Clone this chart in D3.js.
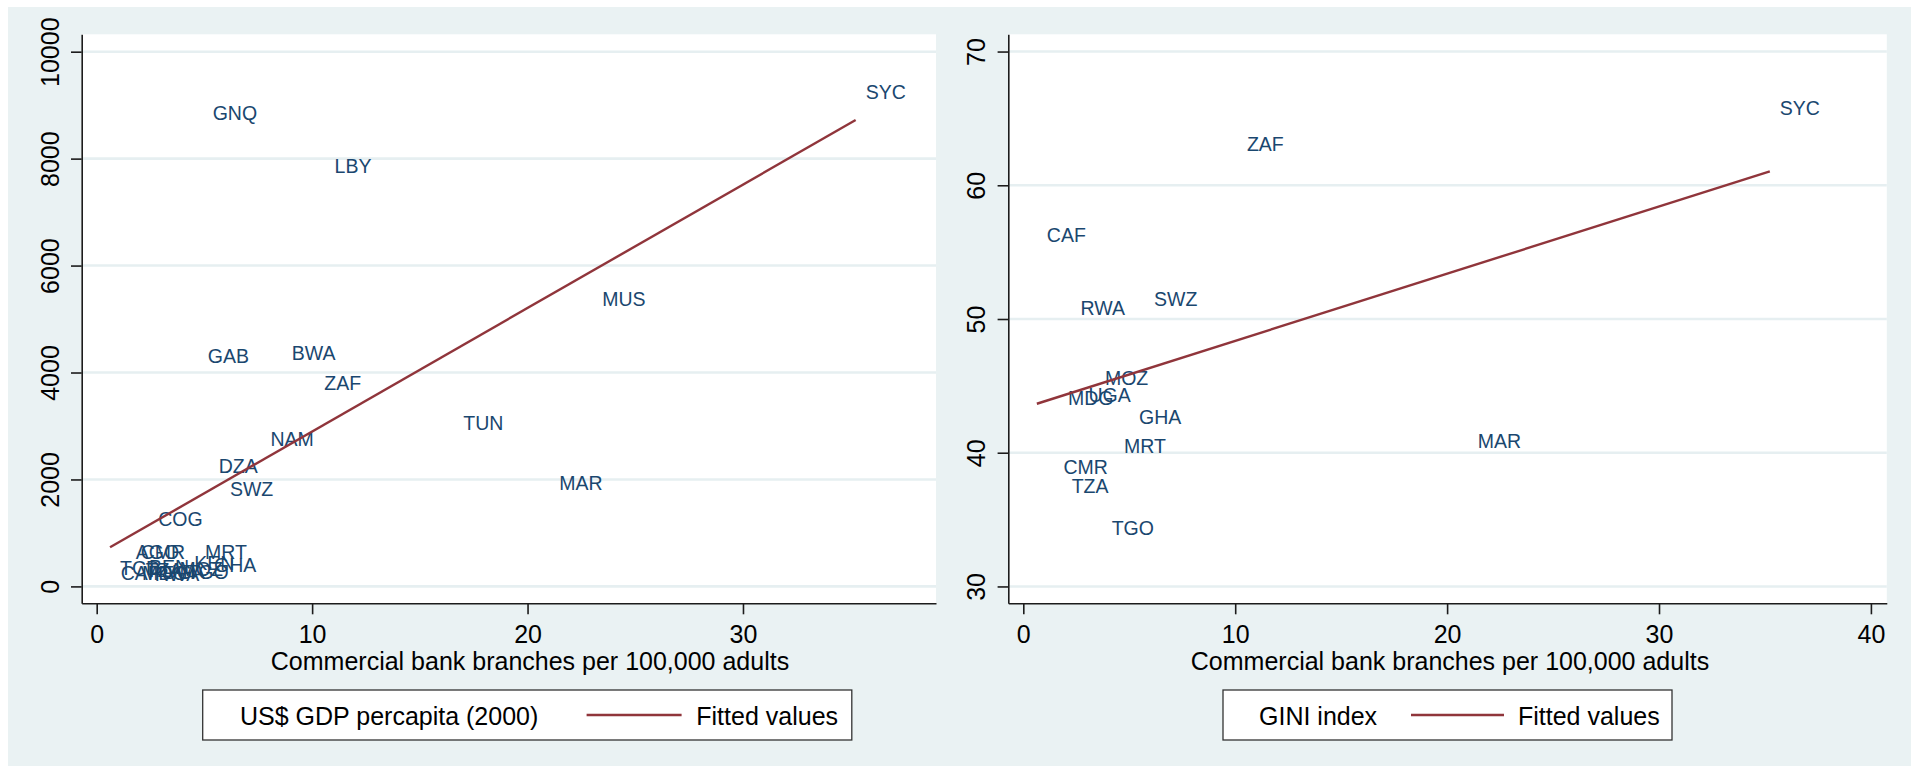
<!DOCTYPE html>
<html>
<head>
<meta charset="utf-8">
<script src="https://cdn.jsdelivr.net/npm/d3@7"></script>
<style>
  html, body { margin: 0; padding: 0; background: #ffffff; }
  svg { display: block; }
  text { font-family: "Liberation Sans", Arial, Helvetica, sans-serif; }
</style>
</head>
<body>
<svg id="chart" width="1919" height="772"></svg>
<script>
// ---------- DATA ----------
// Left panel: US$ GDP per capita (2000) vs commercial bank branches per 100,000 adults
const gdpCountries = ["SYC","GNQ","LBY","MUS","GAB","BWA","ZAF","TUN","NAM","DZA","MAR","SWZ","COG",
  "TCD","CAF","AGO","CMR","MRT","GHA","KEN","BEN","MDG","TZA","RWA","UGA","MOZ","TGO"];
const gdpBranches = [35.23, 4.92, 10.58, 23.0, 4.69, 8.59, 10.10, 16.55, 7.60, 5.20, 21.01, 5.72, 2.39,
  0.62, 0.65, 1.35, 1.58, 4.56, 4.98, 4.06, 1.96, 1.64, 1.81, 2.23, 2.60, 3.38, 3.70];
const gdpValues = [9243, 8849, 7863, 5367, 4318, 4364, 3811, 3048, 2753, 2246, 1943, 1814, 1253,
  344, 245, 643, 650, 649, 400, 430, 370, 250, 300, 240, 270, 330, 260];
const gdpFit = { intercept: 588, slope: 230.9 };

// Right panel: GINI index vs commercial bank branches per 100,000 adults
const giniCountries = ["SYC","ZAF","CAF","RWA","SWZ","MAR","MOZ","MDG","UGA","GHA","MRT","CMR","TZA","TGO"];
const giniBranches = [35.23, 10.08, 0.64, 2.23, 5.70, 20.98, 3.38, 1.64, 2.60, 4.99, 4.28, 1.42, 1.81, 3.70];
const giniValues = [65.8, 63.1, 56.3, 50.8, 51.5, 40.9, 45.6, 44.1, 44.3, 42.7, 40.5, 38.9, 37.5, 34.4];
const giniFit = { intercept: 43.34, slope: 0.5024 };

// Ticks and texts
const gdpYTicks = [0, 2000, 4000, 6000, 8000, 10000];
const gdpXTicks = [0, 10, 20, 30];
const giniYTicks = [30, 40, 50, 60, 70];
const giniXTicks = [0, 10, 20, 30, 40];
const xTitle = "Commercial bank branches per 100,000 adults";
const gdpLegend = ["US$ GDP percapita (2000)", "Fitted values"];
const giniLegend = ["GINI index", "Fitted values"];

// ---------- STYLE / LAYOUT ----------
const C = {
  bg: "#EAF2F3", grid: "#E6EFF1", axis: "#1c1c1c",
  label: "#1A476F", fit: "#90353B", text: "#000000"
};
const svg = d3.select("#chart");
svg.append("rect").attr("x", 8).attr("y", 7).attr("width", 1903).attr("height", 759).attr("fill", C.bg);

const panels = [
  {
    names: gdpCountries, xs: gdpBranches, ys: gdpValues, fit: gdpFit,
    yTicks: gdpYTicks, xTicks: gdpXTicks, legend: gdpLegend,
    plot: { x0: 81.7, x1: 936, y0: 34.3, y1: 603.3 },
    xDomain: [-0.696, 38.96], yDomain: [-316, 10325],
    titleX: 530,
    leg: { x0: 202.7, x1: 851.8, text1: 240, line0: 586.6, line1: 681.6, text2: 696.3 }
  },
  {
    names: giniCountries, xs: giniBranches, ys: giniValues, fit: giniFit,
    yTicks: giniYTicks, xTicks: giniXTicks, legend: giniLegend,
    plot: { x0: 1008.3, x1: 1886.8, y0: 34.3, y1: 603.3 },
    xDomain: [-0.708, 40.75], yDomain: [28.74, 71.29],
    titleX: 1450,
    leg: { x0: 1223, x1: 1672, text1: 1259, line0: 1411, line1: 1504, text2: 1518 }
  }
];

panels.forEach(p => {
  const x = d3.scaleLinear().domain(p.xDomain).range([p.plot.x0, p.plot.x1]);
  const y = d3.scaleLinear().domain(p.yDomain).range([p.plot.y1, p.plot.y0]);
  const g = svg.append("g");

  // plot region
  g.append("rect")
    .attr("x", p.plot.x0).attr("y", p.plot.y0)
    .attr("width", p.plot.x1 - p.plot.x0).attr("height", p.plot.y1 - p.plot.y0)
    .attr("fill", "#ffffff");

  // gridlines
  g.selectAll(".grid").data(p.yTicks).enter().append("line")
    .attr("x1", p.plot.x0).attr("x2", p.plot.x1)
    .attr("y1", d => y(d)).attr("y2", d => y(d))
    .attr("stroke", C.grid).attr("stroke-width", 2.6);

  // y axis
  const yAxis = g.append("g").attr("transform", `translate(${p.plot.x0},0)`)
    .call(d3.axisLeft(y).tickValues(p.yTicks).tickSize(10.7).tickSizeOuter(0).tickFormat(d3.format("d")));
  yAxis.select(".domain").attr("stroke", C.axis).attr("stroke-width", 1.6);
  yAxis.selectAll(".tick line").attr("stroke", C.axis).attr("stroke-width", 1.6);
  yAxis.selectAll(".tick text")
    .attr("transform", "rotate(-90)")
    .attr("x", 0).attr("y", -23).attr("dy", 0)
    .attr("text-anchor", "middle")
    .attr("fill", C.text)
    .style("font-size", "25px");

  // x axis
  const xAxis = g.append("g").attr("transform", `translate(0,${p.plot.y1})`)
    .call(d3.axisBottom(x).tickValues(p.xTicks).tickSize(11).tickSizeOuter(0).tickFormat(d3.format("d")));
  xAxis.select(".domain").attr("stroke", C.axis).attr("stroke-width", 1.6);
  xAxis.selectAll(".tick line").attr("stroke", C.axis).attr("stroke-width", 1.6);
  xAxis.selectAll(".tick text")
    .attr("y", 40).attr("dy", 0)
    .attr("fill", C.text)
    .style("font-size", "25px");

  // clip
  const clipId = "clip" + Math.round(p.plot.x0);
  svg.append("clipPath").attr("id", clipId).append("rect")
    .attr("x", p.plot.x0).attr("y", p.plot.y0)
    .attr("width", p.plot.x1 - p.plot.x0).attr("height", p.plot.y1 - p.plot.y0);

  // marker labels
  const pts = p.names.map((n, i) => ({ n, x: p.xs[i], y: p.ys[i] }));
  g.append("g").selectAll("text").data(pts).enter().append("text")
    .attr("x", d => x(d.x) + 10)
    .attr("y", d => y(d.y) + 7)
    .attr("fill", C.label)
    .style("font-size", "19.5px")
    .text(d => d.n);

  // fitted line
  const xmin = d3.min(p.xs), xmax = d3.max(p.xs);
  const fitPts = [xmin, xmax].map(v => [v, p.fit.intercept + p.fit.slope * v]);
  g.append("path")
    .attr("d", d3.line().x(d => x(d[0])).y(d => y(d[1]))(fitPts))
    .attr("fill", "none").attr("stroke", C.fit).attr("stroke-width", 2.4)
    .attr("clip-path", `url(#${clipId})`);

  // axis title
  g.append("text")
    .attr("x", p.titleX).attr("y", 670)
    .attr("text-anchor", "middle")
    .attr("fill", C.text)
    .style("font-size", "25px")
    .text(xTitle);

  // legend
  const L = p.leg;
  g.append("rect")
    .attr("x", L.x0).attr("y", 690).attr("width", L.x1 - L.x0).attr("height", 50)
    .attr("fill", "#ffffff").attr("stroke", "#333333").attr("stroke-width", 1.3);
  g.append("text").attr("x", L.text1).attr("y", 725).attr("fill", C.text)
    .style("font-size", "25px").text(p.legend[0]);
  g.append("line").attr("x1", L.line0).attr("x2", L.line1).attr("y1", 715).attr("y2", 715)
    .attr("stroke", C.fit).attr("stroke-width", 2.4);
  g.append("text").attr("x", L.text2).attr("y", 725).attr("fill", C.text)
    .style("font-size", "25px").text(p.legend[1]);
});
</script>
</body>
</html>
